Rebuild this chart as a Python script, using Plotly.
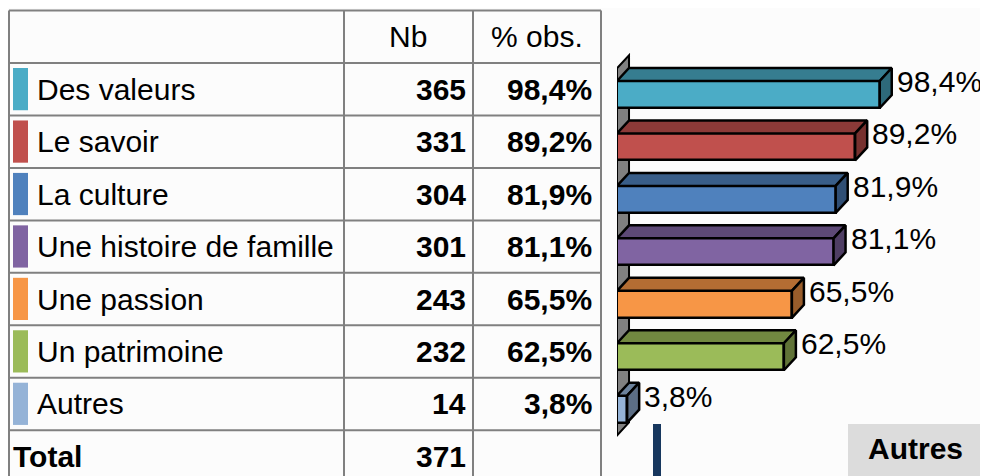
import plotly.graph_objects as go

# data
labels = ["Des valeurs", "Le savoir", "La culture", "Une histoire de famille",
          "Une passion", "Un patrimoine", "Autres"]
counts = [365, 331, 304, 301, 243, 232, 14]
pcts = [98.4, 89.2, 81.9, 81.1, 65.5, 62.5, 3.8]
total = 371
headers = ["Nb", "% obs."]
colors = ["#4bacc6", "#c0504d", "#4f81bd", "#8064a2", "#f79646", "#9bbb59", "#95b3d7"]

# the page puts the figure 8px in from the top-left corner
OX, OY = 8, 8
W, H = 988 - OX, 476 - OY
FONT = "Arial, Liberation Sans, sans-serif"
GRID = "#808080"
ROW_PX = 52.45
ROW0 = 36.8 - OY  # centre of the header row, figure pixels


def shade(hex_color, k):
    r, g, b = (int(hex_color[i:i + 2], 16) for i in (1, 3, 5))
    return f"rgb({int(r * k)},{int(g * k)},{int(b * k)})"


def fmt(p):
    return f"{p:.1f}".replace(".", ",") + "%"


def px(x):
    return (x - OX) / W


def py(y):
    return 1 - (y - OY) / H


# 3D look: depth offsets (x in % units, y in row units)
DX = 4.5
DY = 0.248
BAR_W = 0.515
OFF = 0.1

fig = go.Figure()
shapes = []
annotations = []

rows = list(range(1, len(labels) + 1))

# back wall along the axis
shapes.append(dict(
    type="path", xref="x", yref="y", layer="below",
    path=f"M 0 {0.5 + OFF} L 0 {len(labels) + 0.5 + OFF} "
         f"L {DX} {len(labels) + 0.5 + OFF - DY} L {DX} {0.5 + OFF - DY} Z",
    fillcolor="#808080", line=dict(color="black", width=2),
))

# front faces
fig.add_trace(go.Bar(
    x=pcts, y=[r + OFF for r in rows], orientation="h", width=BAR_W,
    marker=dict(color=colors, line=dict(color="black", width=2.5)),
    hoverinfo="skip", showlegend=False,
))

# top and side faces + labels
for r, v, c in zip(rows, pcts, colors):
    top = r + OFF - BAR_W / 2
    bot = r + OFF + BAR_W / 2
    fig.add_trace(go.Scatter(
        x=[0, v, v + DX, DX, 0], y=[top, top, top - DY, top - DY, top],
        fill="toself", fillcolor=shade(c, 0.73), mode="lines",
        line=dict(color="black", width=2.5), hoverinfo="skip", showlegend=False,
    ))
    fig.add_trace(go.Scatter(
        x=[v, v + DX, v + DX, v, v], y=[top, top - DY, bot - DY, bot, top],
        fill="toself", fillcolor=shade(c, 0.62), mode="lines",
        line=dict(color="black", width=2.5), hoverinfo="skip", showlegend=False,
    ))
    annotations.append(dict(
        x=v + DX, y=r + OFF - DY, xref="x", yref="y", xanchor="left",
        yanchor="middle", text=fmt(v), showarrow=False, xshift=3,
        font=dict(family=FONT, size=30, color="black"),
    ))

# table grid
n_rows = len(labels) + 2
for k in range(n_rows):
    shapes.append(dict(type="line", xref="paper", yref="y",
                       x0=px(9), x1=px(601), y0=k - 0.5, y1=k - 0.5,
                       line=dict(color=GRID, width=2)))
for xc in (9, 344, 473, 601):
    shapes.append(dict(type="line", xref="paper", yref="y",
                       x0=px(xc), x1=px(xc), y0=-0.5, y1=n_rows + 1,
                       line=dict(color=GRID, width=2)))

# header
for h, xc in zip(headers, (408, 537)):
    annotations.append(dict(x=px(xc), y=0, xref="paper", yref="y", text=h,
                            showarrow=False, xanchor="center", yanchor="middle",
                            font=dict(family=FONT, size=30, color="black")))

# body rows
for r, lab, n, v, c in zip(rows, labels, counts, pcts, colors):
    shapes.append(dict(type="rect", xref="paper", yref="y",
                       x0=px(13), x1=px(28), y0=r - 0.405, y1=r + 0.4,
                       fillcolor=c, line=dict(width=0)))
    annotations.append(dict(x=px(35), y=r, xref="paper", yref="y", text=lab,
                            showarrow=False, xanchor="left", yanchor="middle",
                            font=dict(family=FONT, size=30, color="black")))
    annotations.append(dict(x=px(468), y=r, xref="paper", yref="y",
                            text=f"<b>{n}</b>", showarrow=False,
                            xanchor="right", yanchor="middle",
                            font=dict(family=FONT, size=30, color="black")))
    annotations.append(dict(x=px(594), y=r, xref="paper", yref="y",
                            text=f"<b>{fmt(v)}</b>", showarrow=False,
                            xanchor="right", yanchor="middle",
                            font=dict(family=FONT, size=30, color="black")))

# total row
tr = len(labels) + 1
annotations.append(dict(x=px(11), y=tr, xref="paper", yref="y", text="<b>Total</b>",
                        showarrow=False, xanchor="left", yanchor="middle",
                        font=dict(family=FONT, size=30, color="black")))
annotations.append(dict(x=px(468), y=tr, xref="paper", yref="y", text=f"<b>{total}</b>",
                        showarrow=False, xanchor="right", yanchor="middle",
                        font=dict(family=FONT, size=30, color="black")))

# fragments of the next chart peeking in at the bottom
shapes.append(dict(type="rect", xref="paper", yref="paper",
                   x0=px(653), x1=px(661), y0=0, y1=py(424),
                   fillcolor="#17375e", line=dict(width=0)))
shapes.append(dict(type="rect", xref="paper", yref="paper",
                   x0=px(848), x1=1, y0=0, y1=py(424),
                   fillcolor="#dcdcdc", line=dict(width=0)))
annotations.append(dict(x=px(866), y=py(448), xref="paper", yref="paper",
                        text="<b>Autres</b>", showarrow=False,
                        xanchor="left", yanchor="middle",
                        font=dict(family=FONT, size=30, color="black")))

fig.update_layout(
    width=W, height=H,
    margin=dict(l=0, r=0, t=0, b=0),
    paper_bgcolor="#fcfcfc", plot_bgcolor="rgba(0,0,0,0)",
    xaxis=dict(domain=[px(617), 1], range=[0, 371 / 2.67], visible=False,
               fixedrange=True),
    yaxis=dict(range=[(H - ROW0) / ROW_PX, -ROW0 / ROW_PX], visible=False,
               fixedrange=True),
    shapes=shapes, annotations=annotations,
    bargap=0,
)

fig.write_html("out.html")
